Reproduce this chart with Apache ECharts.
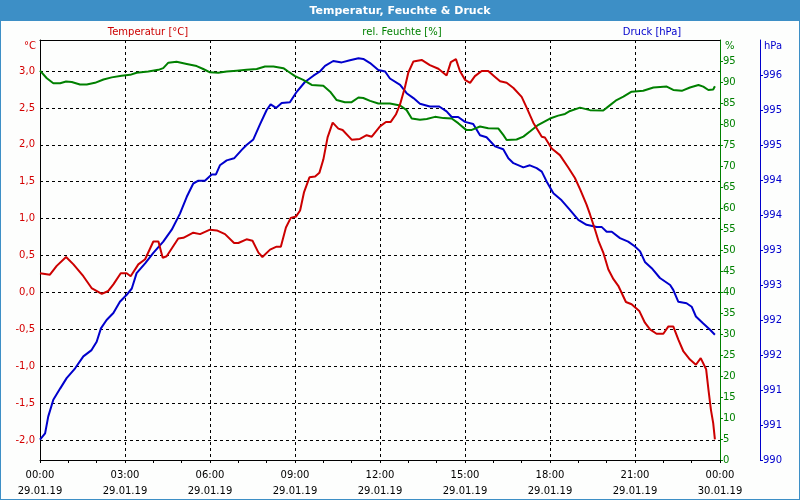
<!DOCTYPE html>
<html>
<head>
<meta charset="utf-8">
<script src="https://cdn.jsdelivr.net/npm/echarts@6/dist/echarts.min.js"></script>
<style>
html,body{margin:0;padding:0;background:#fdfefd;}
#chart{width:800px;height:500px;}
</style>
</head>
<body>
<div id="chart"></div>
<script>
// ---- data (hours since 29.01.19 00:00) ----
const tempTimes = [0,0.35,0.59,0.92,1.18,1.53,1.82,2.18,2.41,2.59,2.85,3.06,3.2,3.47,3.71,4.0,4.18,4.33,4.47,4.88,5.06,5.41,5.65,6.0,6.24,6.53,6.85,7.0,7.29,7.5,7.71,7.85,8.12,8.35,8.5,8.68,8.85,9.04,9.18,9.32,9.51,9.71,9.86,10.0,10.15,10.33,10.53,10.68,11.0,11.29,11.53,11.71,12.0,12.21,12.38,12.56,12.71,12.88,13.0,13.18,13.47,13.76,14.06,14.35,14.5,14.68,14.82,15.0,15.18,15.35,15.59,15.82,16.06,16.24,16.47,16.71,17.0,17.18,17.41,17.71,17.82,18.06,18.35,18.65,18.88,19.06,19.29,19.41,19.59,19.71,19.88,20.06,20.24,20.41,20.68,20.88,21.15,21.35,21.53,21.76,22.0,22.18,22.35,22.53,22.71,22.94,23.15,23.32,23.51,23.59,23.68,23.76,23.82];
const tempValues = [0.26,0.24,0.36,0.48,0.38,0.22,0.06,-0.02,0.02,0.11,0.26,0.26,0.22,0.38,0.45,0.69,0.69,0.47,0.49,0.73,0.74,0.81,0.79,0.85,0.84,0.79,0.67,0.67,0.72,0.70,0.54,0.48,0.58,0.62,0.62,0.88,1.01,1.03,1.11,1.36,1.56,1.57,1.62,1.80,2.10,2.30,2.22,2.20,2.07,2.08,2.13,2.11,2.25,2.31,2.31,2.41,2.55,2.78,2.98,3.13,3.15,3.08,3.03,2.94,3.12,3.16,3.0,2.88,2.84,2.93,3.0,3.0,2.92,2.86,2.84,2.77,2.65,2.50,2.30,2.11,2.10,1.95,1.86,1.69,1.55,1.40,1.19,1.06,0.85,0.70,0.54,0.31,0.18,0.09,-0.13,-0.16,-0.25,-0.41,-0.50,-0.56,-0.56,-0.46,-0.46,-0.64,-0.80,-0.91,-0.98,-0.89,-1.04,-1.31,-1.59,-1.77,-1.99];

const humTimes = [0,0.24,0.47,0.71,0.92,1.12,1.41,1.65,1.94,2.24,2.53,2.88,3.18,3.41,3.82,4.18,4.35,4.53,4.82,5.18,5.53,5.76,6.0,6.29,6.59,6.94,7.29,7.65,7.94,8.24,8.59,8.76,9.0,9.29,9.59,10.0,10.24,10.47,10.76,11.0,11.24,11.41,11.65,11.94,12.35,12.71,12.94,13.12,13.41,13.65,13.94,14.24,14.53,14.76,15.04,15.24,15.53,15.82,16.18,16.35,16.47,16.82,17.06,17.29,17.59,18.0,18.29,18.53,18.71,19.06,19.41,19.88,20.12,20.35,20.59,20.88,21.29,21.65,22.12,22.35,22.65,22.94,23.24,23.41,23.59,23.76,23.82];
const humValues = [92.7,90.9,89.7,89.7,90.1,90.0,89.4,89.4,89.8,90.6,91.1,91.5,91.7,92.2,92.5,92.9,93.3,94.6,94.8,94.3,93.8,93.1,92.3,92.2,92.5,92.7,92.9,93.1,93.7,93.7,93.3,92.5,91.4,90.5,89.3,89.1,87.7,85.7,85.2,85.2,86.3,86.2,85.5,84.9,84.9,84.4,83.3,81.3,81.0,81.2,81.7,81.4,81.3,80.2,78.6,78.6,79.4,79.0,78.9,77.4,76.2,76.3,77.0,78.2,79.8,81.3,82.0,82.4,83.1,83.9,83.3,83.2,84.5,85.7,86.5,87.7,87.9,88.7,88.9,88.1,87.9,88.7,89.3,88.9,88.1,88.2,89.0];

const presTimes = [0,0.18,0.29,0.47,0.71,0.94,1.24,1.53,1.82,2.0,2.15,2.35,2.59,2.82,3.06,3.24,3.41,3.71,4.0,4.35,4.65,4.94,5.18,5.41,5.59,5.82,6.06,6.21,6.35,6.59,6.85,7.12,7.29,7.53,7.76,8.0,8.14,8.33,8.53,8.82,9.06,9.35,9.65,9.88,10.06,10.35,10.65,10.94,11.24,11.41,11.65,11.94,12.18,12.35,12.71,12.94,13.18,13.41,13.76,14.09,14.35,14.53,14.76,15.0,15.29,15.53,15.76,16.06,16.35,16.53,16.71,17.06,17.29,17.53,17.71,17.88,18.12,18.41,18.71,19.0,19.29,19.65,19.82,20.0,20.18,20.47,20.76,21.0,21.18,21.35,21.59,21.88,22.24,22.35,22.53,22.82,23.0,23.15,23.41,23.65,23.82];
const presValues = [990.29,990.38,990.62,990.86,991.02,991.17,991.31,991.48,991.57,991.69,991.88,992.0,992.10,992.26,992.36,992.45,992.67,992.81,992.96,993.12,993.29,993.52,993.76,993.95,993.99,993.99,994.08,994.08,994.21,994.28,994.31,994.43,994.5,994.58,994.79,995.0,995.08,995.03,995.10,995.11,995.26,995.40,995.49,995.55,995.63,995.70,995.68,995.71,995.74,995.73,995.67,995.57,995.55,995.45,995.36,995.24,995.17,995.09,995.05,995.05,994.98,994.90,994.90,994.83,994.8,994.64,994.61,994.48,994.44,994.31,994.24,994.18,994.21,994.17,994.12,993.98,993.81,993.71,993.57,993.43,993.36,993.33,993.33,993.26,993.26,993.17,993.12,993.05,992.98,992.83,992.74,992.60,992.5,992.43,992.26,992.24,992.19,992.05,991.95,991.86,991.79];

const chartTitle = 'Temperatur, Feuchte & Druck';
const seriesNames = ['Temperatur [°C]', 'rel. Feuchte [%]', 'Druck [hPa]'];
const unitLabels = ['°C', '%', 'hPa'];
const dateLabels = ['29.01.19', '30.01.19'];

const RED = '#cc0000', GREEN = '#008000', BLUE = '#0000cc';
const FONT = 'DejaVu Sans';

function pairs(t, v){ return t.map((x,i)=>[x, v[i]]); }
function pad(n){ return (n<10?'0':'')+n; }

const chart = echarts.init(document.getElementById('chart'), null, {renderer:'canvas'});
chart.setOption({
  backgroundColor: '#fdfefd',
  animation: false,
  grid: {left: 40, right: 80, top: 40, bottom: 40, containLabel: false},
  xAxis: [{
    type: 'value', min: 0, max: 24, interval: 3,
    axisLine: {show: true, onZero: false, lineStyle: {color: '#000', width: 1}},
    axisTick: {show: true, length: 3, lineStyle: {color: '#000'}},
    minorTick: {show: true, splitNumber: 3, length: 3, lineStyle: {color: '#000'}},
    axisLabel: {
      color: '#000', fontFamily: FONT, fontSize: 10, lineHeight: 16, margin: 7,
      formatter: v => pad(Math.round(v) % 24) + ':00\n' + (v < 24 ? dateLabels[0] : dateLabels[1])
    },
    splitLine: {show: true, showMinLine: false, showMaxLine: false, lineStyle: {color: '#000', type: [3,3], width: 1}}
  }, {
    type: 'value', position: 'top', min: 0, max: 24,
    axisLine: {show: true, onZero: false, lineStyle: {color: '#000', width: 1}},
    axisTick: {show: false}, axisLabel: {show: false}, splitLine: {show: false}
  }],
  yAxis: [{
    type: 'value', position: 'left', min: -2.27, max: 3.42, splitNumber: 11,
    axisLine: {show: true, onZero: false, lineStyle: {color: '#000', width: 1}},
    axisTick: {show: false},
    axisLabel: {color: '#d40000', fontFamily: FONT, fontSize: 10, margin: 5, showMinLabel: false, showMaxLabel: false,
      formatter: v => v.toFixed(1).replace('.', ',')},
    splitLine: {show: true, showMinLine: false, showMaxLine: false, lineStyle: {color: '#000', type: [3,3], width: 1}}
  }, {
    type: 'value', position: 'right', offset: 0, min: 0, max: 100, interval: 5,
    axisLine: {show: true, onZero: false, lineStyle: {color: GREEN, width: 1}},
    axisTick: {show: true, length: 3, lineStyle: {color: GREEN}},
    axisLabel: {color: GREEN, fontFamily: FONT, fontSize: 10, margin: 3, showMaxLabel: false},
    splitLine: {show: false}
  }, {
    type: 'value', position: 'right', offset: 40, min: 990, max: 996, interval: 0.5,
    axisLine: {show: true, onZero: false, lineStyle: {color: BLUE, width: 1}},
    axisTick: {show: true, length: 3, lineStyle: {color: BLUE}},
    axisLabel: {color: BLUE, fontFamily: FONT, fontSize: 10, margin: 3, showMaxLabel: false,
      formatter: v => String(Math.round(v))},
    splitLine: {show: false}
  }],
  series: [{
    name: seriesNames[2], type: 'line', xAxisIndex: 0, yAxisIndex: 2,
    data: pairs(presTimes, presValues), showSymbol: false, symbol: 'none',
    lineStyle: {color: BLUE, width: 2}, itemStyle: {color: BLUE}, z: 3
  }, {
    name: seriesNames[1], type: 'line', xAxisIndex: 0, yAxisIndex: 1,
    data: pairs(humTimes, humValues), showSymbol: false, symbol: 'none',
    lineStyle: {color: GREEN, width: 2}, itemStyle: {color: GREEN}, z: 4
  }, {
    name: seriesNames[0], type: 'line', xAxisIndex: 0, yAxisIndex: 0,
    data: pairs(tempTimes, tempValues), showSymbol: false, symbol: 'none',
    lineStyle: {color: RED, width: 2}, itemStyle: {color: RED}, z: 5
  }],
  graphic: [
    {type: 'rect', shape: {x: 0, y: 0, width: 800, height: 21}, style: {fill: '#3d8fc6'}, z: 10},
    {type: 'rect', shape: {x: 0, y: 0, width: 800, height: 500}, style: {fill: null, stroke: '#3d8fc6', lineWidth: 2}, z: 10},
    {type: 'text', x: 400, y: 11, style: {text: chartTitle, fill: '#ffffff', font: 'bold 11px "DejaVu Sans"', align: 'center', verticalAlign: 'middle', textAlign: 'center', textVerticalAlign: 'middle'}, z: 11},
    {type: 'text', x: 148, y: 32, style: {text: seriesNames[0], fill: RED, font: '10px "DejaVu Sans"', align: 'center', verticalAlign: 'middle', textAlign: 'center', textVerticalAlign: 'middle'}},
    {type: 'text', x: 402, y: 32, style: {text: seriesNames[1], fill: GREEN, font: '10px "DejaVu Sans"', align: 'center', verticalAlign: 'middle', textAlign: 'center', textVerticalAlign: 'middle'}},
    {type: 'text', x: 652, y: 32, style: {text: seriesNames[2], fill: BLUE, font: '10px "DejaVu Sans"', align: 'center', verticalAlign: 'middle', textAlign: 'center', textVerticalAlign: 'middle'}},
    {type: 'text', x: 36, y: 46, style: {text: unitLabels[0], fill: '#d40000', font: '10px "DejaVu Sans"', align: 'right', verticalAlign: 'middle', textAlign: 'right', textVerticalAlign: 'middle'}},
    {type: 'text', x: 725, y: 46, style: {text: unitLabels[1], fill: GREEN, font: '10px "DejaVu Sans"', align: 'left', verticalAlign: 'middle', textAlign: 'left', textVerticalAlign: 'middle'}},
    {type: 'text', x: 764, y: 46, style: {text: unitLabels[2], fill: BLUE, font: '10px "DejaVu Sans"', align: 'left', verticalAlign: 'middle', textAlign: 'left', textVerticalAlign: 'middle'}}
  ]
});
</script>
</body>
</html>
